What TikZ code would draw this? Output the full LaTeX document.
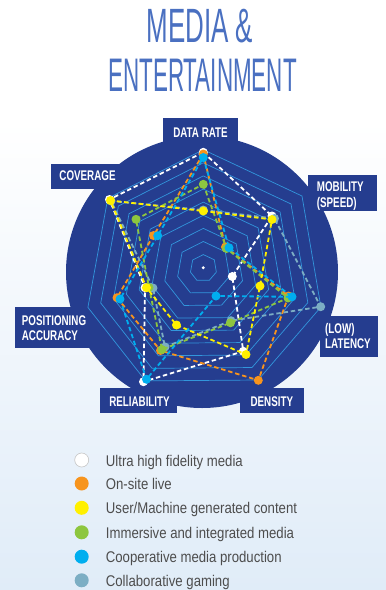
\documentclass[tikz,border=0pt]{standalone}
\usepackage{fontspec}
\setmainfont{Liberation Sans}
\newfontfamily\titlefont{Liberation Sans}
\newfontfamily\labfont{Liberation Sans}[FakeStretch=0.7]
\newfontfamily\legfont{Liberation Sans}[FakeStretch=0.85]
\usetikzlibrary{calc}
\definecolor{navy}{RGB}{37,61,143}
\definecolor{titleblue}{RGB}{74,112,193}
\definecolor{gridblue}{RGB}{50,150,220}
\definecolor{cOrange}{RGB}{247,148,29}
\definecolor{cYellow}{RGB}{255,240,0}
\definecolor{cGreen}{RGB}{141,198,63}
\definecolor{cBlue}{RGB}{0,174,239}
\definecolor{cGame}{RGB}{124,174,196}
\definecolor{bgblue}{RGB}{224,236,248}
\definecolor{legtext}{RGB}{77,77,77}
\tikzset{
  labtxt/.style={anchor=base, inner sep=0pt, text=white, font=\labfont\bfseries\fontsize{14}{15}\selectfont},
  labtxtl/.style={labtxt, anchor=base west},
  gridline/.style={draw=gridblue, line width=0.7pt},
  serie/.style={line width=1.8pt, dash pattern=on 4.5pt off 2.8pt},
  dot/.style={circle, inner sep=0pt, minimum size=9pt},
  legdot/.style={circle, inner sep=0pt, minimum size=14pt},
  legtxt/.style={anchor=base west, inner sep=0pt, text=legtext, font=\legfont\fontsize{15.5}{17}\selectfont}
}
\begin{document}
\begin{tikzpicture}[x=1pt,y=-1pt]
\useasboundingbox (0,0) rectangle (386,590);
\fill[white] (0,0) rectangle (386,590);
\shade[top color=white, bottom color=bgblue] (0,120) rectangle (386,590);

% title
\node[anchor=base, inner sep=0pt, text=titleblue] (t1) at (200,42.3) {\resizebox{106.6pt}{33.3pt}{\titlefont MEDIA \&}};
\node[anchor=base, inner sep=0pt, text=titleblue] (t2) at (202.5,91.7) {\resizebox{188.4pt}{32.4pt}{\titlefont ENTERTAINMENT}};

% disc and label boxes
\fill[navy] (202,272) circle (136pt);
\fill[navy] (162.7,118.3) rectangle (238.3,150);
\fill[navy] (50.7,163.5) rectangle (125,189);
\fill[navy] (308.3,175) rectangle (377,211);
\fill[navy] (320,315.5) rectangle (378,357);
\fill[navy] (240,388.3) rectangle (304,413.3);
\fill[navy] (100,388.3) rectangle (177,413.3);
\fill[navy] (15,307) rectangle (95,348.3);

\node[labtxt] (ldr) at (200.5,137.3) {DATA RATE};
\node[labtxt] (lcov) at (87.5,180.7) {COVERAGE};
\node[labtxtl] (lmob1) at (316.7,191.7) {MOBILITY};
\node[labtxtl] (lmob2) at (316.7,207.3) {(SPEED)};
\node[labtxtl] (llat1) at (325,333.3) {(LOW)};
\node[labtxtl] (llat2) at (325,348.6) {LATENCY};
\node[labtxt] (lden) at (271.8,406) {DENSITY};
\node[labtxt] (lrel) at (139.5,406) {RELIABILITY};
\node[labtxtl] (lpos1) at (21.7,325) {POSITIONING};
\node[labtxtl] (lpos2) at (21.7,340) {ACCURACY};

% grid
\coordinate (O) at (203.3,267.7);
\coordinate (vDR) at ($(O)+(0,-118)$);
\coordinate (vMO) at ($(O)+(98.7,-71.7)$);
\coordinate (vLA) at ($(O)+(117.6,39.3)$);
\coordinate (vDE) at ($(O)+(54.8,112.3)$);
\coordinate (vRE) at ($(O)+(-57.7,113.2)$);
\coordinate (vPO) at ($(O)+(-115.4,39.7)$);
\coordinate (vCO) at ($(O)+(-95.5,-69.4)$);
\foreach \k in {1,...,9}{
  \draw[gridline] ($(O)!{\k/9}!(vDR)$) -- ($(O)!{\k/9}!(vMO)$) -- ($(O)!{\k/9}!(vLA)$) -- ($(O)!{\k/9}!(vDE)$) -- ($(O)!{\k/9}!(vRE)$) -- ($(O)!{\k/9}!(vPO)$) -- ($(O)!{\k/9}!(vCO)$) -- cycle;
}
\fill[white] (O) circle (1.6pt);

% Ultra high fidelity media (white)
\coordinate (w1) at (203.3,152.3);
\coordinate (w2) at (272,216);
\coordinate (w3) at (232.3,276.5);
\coordinate (w4) at (243.3,351.3);
\coordinate (w5) at (143.5,381.7);
\coordinate (w6) at (145,287.7);
\coordinate (w7) at (109.5,199.5);
\draw[serie, white] (w1) -- (w2) -- (w3) -- (w4) -- (w5) -- (w6) -- (w7) -- cycle;
\foreach \p in {w1,w2,w3,w4,w5,w6,w7} \node[dot, fill=white] (d\p) at (\p) {};

% On-site live (orange)
\coordinate (o1) at (203.3,154);
\coordinate (o2) at (225.5,247);
\coordinate (o3) at (288.5,296);
\coordinate (o4) at (258.3,380.3);
\coordinate (o5) at (160.5,350.5);
\coordinate (o6) at (117,297.7);
\coordinate (o7) at (153.5,235.5);
\draw[serie, cOrange] (o1) -- (o2) -- (o3) -- (o4) -- (o5) -- (o6) -- (o7) -- cycle;
\foreach \p in {o1,o2,o3,o4,o5,o6,o7} \node[dot, fill=cOrange] (d\p) at (\p) {};

% Collaborative gaming
\coordinate (c1) at (203.3,210);
\coordinate (c2) at (274.5,218.5);
\coordinate (c3) at (320.7,306.7);
\coordinate (c4) at (231,320.7);
\coordinate (c5) at (165,347);
\coordinate (c6) at (153,288);
\coordinate (c7) at (111,201);
\draw[serie, cGame] (c1) -- (c2) -- (c3) -- (c4) -- (c5) -- (c6) -- (c7) -- cycle;
\foreach \p in {c1,c2,c3,c4,c5,c6,c7} \node[dot, fill=cGame] (d\p) at (\p) {};

% Immersive and integrated media (green)
\coordinate (g1) at (203.3,184.3);
\coordinate (g2) at (226.5,248.5);
\coordinate (g3) at (288,298);
\coordinate (g4) at (230.5,322.8);
\coordinate (g5) at (162,349.5);
\coordinate (g6) at (149,287.5);
\coordinate (g7) at (136,219.3);
\draw[serie, cGreen] (g1) -- (g2) -- (g3) -- (g4) -- (g5) -- (g6) -- (g7) -- cycle;
\foreach \p in {g1,g2,g3,g4,g5,g6,g7} \node[dot, fill=cGreen] (d\p) at (\p) {};

% User/Machine generated content (yellow)
\coordinate (y1) at (203.3,211);
\coordinate (y2) at (272,219.5);
\coordinate (y3) at (260,286);
\coordinate (y4) at (246,354.5);
\coordinate (y5) at (176.5,325);
\coordinate (y6) at (146.5,287.7);
\coordinate (y7) at (110.5,200.5);
\draw[serie, cYellow] (y1) -- (y2) -- (y3) -- (y4) -- (y5) -- (y6) -- (y7) -- cycle;
\foreach \p in {y1,y2,y3,y4,y5,y6,y7} \node[dot, fill=cYellow] (d\p) at (\p) {};

% Cooperative media production (blue)
\coordinate (b1) at (203.3,157.5);
\coordinate (b2) at (229,247.7);
\coordinate (b3) at (292,296.8);
\coordinate (b4) at (216,296);
\coordinate (b5) at (146.5,379.3);
\coordinate (b6) at (120,299);
\coordinate (b7) at (157.7,235.7);
\draw[serie, cBlue] (b1) -- (b2) -- (b3) -- (b4) -- (b5) -- (b6) -- (b7) -- cycle;
\foreach \p in {b1,b2,b3,b4,b5,b6,b7} \node[dot, fill=cBlue] (d\p) at (\p) {};

% legend
\node[legdot, fill=white, draw=gray!45, line width=0.6pt] (k1) at (81.7,460) {};
\node[legdot, fill=cOrange] (k2) at (81.7,483.5) {};
\node[legdot, fill=cYellow] (k3) at (81.7,507.8) {};
\node[legdot, fill=cGreen] (k4) at (81.7,532.3) {};
\node[legdot, fill=cBlue] (k5) at (81.7,556.7) {};
\node[legdot, fill=cGame] (k6) at (81.7,580.3) {};
\node[legtxt] (kt1) at (105.7,466) {Ultra high fidelity media};
\node[legtxt] (kt2) at (105.7,489.5) {On-site live};
\node[legtxt] (kt3) at (105.7,513.8) {User/Machine generated content};
\node[legtxt] (kt4) at (105.7,538.3) {Immersive and integrated media};
\node[legtxt] (kt5) at (105.7,562.7) {Cooperative media production};
\node[legtxt] (kt6) at (105.7,586.3) {Collaborative gaming};
\end{tikzpicture}
\end{document}
